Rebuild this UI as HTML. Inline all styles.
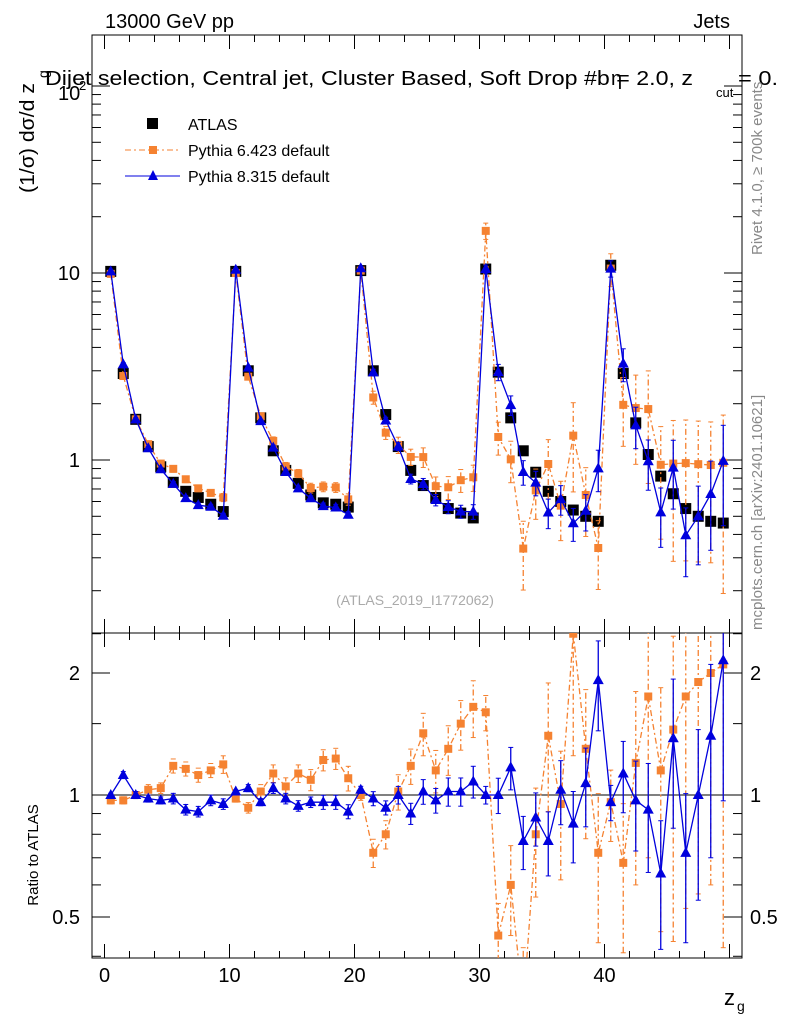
<!DOCTYPE html>
<html><head><meta charset="utf-8"><style>
html,body{margin:0;background:#fff;overflow:hidden;width:786px;height:1024px;}
svg{display:block;font-family:"Liberation Sans",sans-serif;}
</style></head><body>
<svg id="c" width="786" height="1024" xmlns="http://www.w3.org/2000/svg"></svg>
<script>
const bins=[0.5,1.5,2.5,3.5,4.5,5.5,6.5,7.5,8.5,9.5,10.5,11.5,12.5,13.5,14.5,15.5,16.5,17.5,18.5,19.5,20.5,21.5,22.5,23.5,24.5,25.5,26.5,27.5,28.5,29.5,30.5,31.5,32.5,33.5,34.5,35.5,36.5,37.5,38.5,39.5,40.5,41.5,42.5,43.5,44.5,45.5,46.5,47.5,48.5,49.5];
const atlas=[10.2,2.9,1.65,1.18,0.92,0.76,0.68,0.63,0.58,0.53,10.2,3.0,1.68,1.12,0.88,0.75,0.65,0.59,0.58,0.56,10.3,3.0,1.75,1.18,0.88,0.73,0.63,0.55,0.52,0.49,10.5,2.95,1.68,1.12,0.86,0.68,0.6,0.54,0.5,0.47,11.0,2.9,1.58,1.07,0.82,0.66,0.55,0.5,0.47,0.46];
const ratio6=[0.97,0.97,1.0,1.03,1.04,1.18,1.16,1.12,1.15,1.19,0.98,0.93,1.02,1.13,1.05,1.13,1.09,1.22,1.23,1.1,1.0,0.72,0.8,1.02,1.18,1.42,1.15,1.3,1.5,1.65,1.6,0.45,0.6,0.3,0.8,1.4,0.95,2.5,1.3,0.72,0.96,0.68,1.2,1.75,1.15,1.45,1.75,1.9,2.0,2.1];
const err6=[0.02,0.02,0.02,0.03,0.03,0.04,0.04,0.04,0.04,0.05,0.02,0.03,0.04,0.05,0.05,0.05,0.06,0.06,0.06,0.07,0.03,0.08,0.08,0.1,0.1,0.12,0.12,0.14,0.14,0.16,0.1,0.2,0.25,0.4,0.3,0.35,0.35,0.5,0.4,0.4,0.2,0.4,0.5,0.6,0.6,0.7,0.7,0.7,0.7,0.8];
const ratio8=[1.0,1.12,1.0,0.98,0.97,0.98,0.92,0.91,0.97,0.95,1.02,1.04,0.96,1.04,0.98,0.94,0.96,0.96,0.96,0.91,1.03,0.98,0.93,1.0,0.9,1.02,0.97,1.02,1.02,1.08,1.0,1.0,1.17,0.77,0.88,0.77,1.03,0.85,1.07,1.92,0.96,1.13,0.97,0.92,0.64,1.38,0.72,1.0,1.4,2.15];
const err8=[0.01,0.02,0.02,0.02,0.02,0.03,0.03,0.03,0.03,0.03,0.01,0.02,0.02,0.03,0.03,0.03,0.03,0.04,0.04,0.04,0.02,0.04,0.04,0.05,0.06,0.07,0.07,0.08,0.08,0.09,0.05,0.1,0.12,0.15,0.15,0.18,0.18,0.2,0.22,0.25,0.1,0.2,0.25,0.3,0.35,0.4,0.4,0.45,0.5,0.55];
const xTicks=[0,10,20,30,40,50];
const yTickLabels=[["10","1"],["2","1","0.5"]];

const S=document.getElementById('c');const NS='http://www.w3.org/2000/svg';
function el(t,a,p){const e=document.createElementNS(NS,t);for(const k in a)e.setAttribute(k,a[k]);(p||S).appendChild(e);return e;}
const L=92,R=742,T1=35,B1=633,T2=633,B2=958;
const X=v=>L+(v+1)/52*(R-L);
const Y1=v=>273-(Math.log10(v)-1)*187;
const Y2=v=>795-Math.log2(v)*122;
const C6='#f58231',C8='#0000dd';
function txt(x,y,s,a,name){const t=el('text',Object.assign({x:x,y:y,'font-size':18},a||{}));t.textContent=s;return t;}
[[T1,B1],[T2,B2]].forEach((p,i)=>{const r=el('rect',{x:L,y:p[0],width:R-L,height:p[1]-p[0],fill:'none',stroke:'#000','stroke-width':1});});
const defs=el('defs',{});
const c1=el('clipPath',{id:'cp1'},defs);el('rect',{x:L,y:T1,width:R-L,height:B1-T1},c1);
const c2=el('clipPath',{id:'cp2'},defs);el('rect',{x:L,y:T2,width:R-L,height:B2-T2},c2);
for(let v=0;v<=50;v+=2){const big=v%10==0;const x=X(v);
[[T1,B1],[T2,B2]].forEach(p=>{el('line',{x1:x,x2:x,y1:p[1],y2:p[1]-(big?14:7),stroke:'#000'});el('line',{x1:x,x2:x,y1:p[0],y2:p[0]+(big?14:7),stroke:'#000'});});}
xTicks.slice(0,5).forEach(v=>txt(X(v),982,String(v),{'text-anchor':'middle','font-size':20},'x-tick-label'));
txt(735,1005,'z',{'font-size':22,'text-anchor':'end'},'x-axis-title');txt(737,1011,'g',{'font-size':14},'x-axis-title-sub');
for(let d=-1;d<=2;d++)for(let m=1;m<=9;m++){const v=m*Math.pow(10,d);const y=Y1(v);if(y<T1||y>B1)continue;const w=m==1?18:9;
el('line',{x1:L,x2:L+w,y1:y,y2:y,stroke:'#000'});el('line',{x1:R,x2:R-w,y1:y,y2:y,stroke:'#000'});}
txt(80,280,yTickLabels[0][0],{'text-anchor':'end','font-size':20},'y-tick-10');
txt(80,467,yTickLabels[0][1],{'text-anchor':'end','font-size':20},'y-tick-1');
txt(58,100,'10',{'font-size':20},'y-tick-100');txt(79,90,'2',{'font-size':13},'y-tick-100-exp');
[0.4,0.5,0.6,0.7,0.8,0.9,1,1.5,2,2.5].forEach(v=>{const y=Y2(v);if(y<T2||y>B2)return;const big=[0.5,1,2].includes(v);const w=big?18:9;
el('line',{x1:L,x2:L+w,y1:y,y2:y,stroke:'#000'});el('line',{x1:R,x2:R-w,y1:y,y2:y,stroke:'#000'});});
[[2,'2'],[1,'1'],[0.5,'0.5']].forEach(p=>{txt(80,Y2(p[0])+7,p[1],{'text-anchor':'end','font-size':20},'ratio-tick-label');txt(750,Y2(p[0])+7,p[1],{'font-size':20},'ratio-tick-label-right');});
el('line',{x1:L,x2:R,y1:Y2(1),y2:Y2(1),stroke:'#000'});
txt(105,28,'13000 GeV pp',{'font-size':20},'beam-label');
txt(730,28,'Jets',{'font-size':20,'text-anchor':'end'},'process-label');
txt(45,85,'Dijet selection, Central jet, Cluster Based, Soft Drop #b = 2.0, z',{'font-size':20,textLength:648,lengthAdjust:'spacingAndGlyphs'},'plot-title');
txt(611,85,'η',{'font-size':20},'plot-title-eta');
txt(716,97,'cut',{'font-size':13},'plot-title-sub');txt(738,85,'= 0.',{'font-size':20,textLength:40,lengthAdjust:'spacingAndGlyphs'},'plot-title-end');
txt(0,0,'(1/σ) dσ/d z',{'font-size':20,textLength:110,lengthAdjust:'spacingAndGlyphs',transform:'translate(34,193) rotate(-90)'},'y-axis-title');
txt(0,0,'g',{'font-size':14,transform:'translate(48,78) rotate(-90)'},'y-axis-title-sub');
txt(0,0,'Ratio to ATLAS',{'font-size':15,transform:'translate(38,855) rotate(-90)','text-anchor':'middle'},'ratio-axis-title');
txt(0,0,'Rivet 4.1.0, ≥ 700k events',{'font-size':15,fill:'#888',transform:'translate(762,255) rotate(-90)'},'rivet-label');
txt(0,0,'mcplots.cern.ch [arXiv:2401.10621]',{'font-size':15,fill:'#888',transform:'translate(762,630) rotate(-90)'},'mcplots-label');
txt(415,605,'(ATLAS_2019_I1772062)',{'font-size':14,fill:'#aaa','text-anchor':'middle'},'analysis-id');
const lg=el('g',{});
el('rect',{x:147,y:118,width:11,height:11,fill:'#000'},lg);txt(188,130,'ATLAS',{'font-size':16},'legend-atlas');
el('line',{x1:125,x2:180,y1:150,y2:150,stroke:C6,'stroke-dasharray':'6,3,2,3'},lg);el('rect',{x:149,y:146,width:8,height:8,fill:C6},lg);txt(188,156,'Pythia 6.423 default',{'font-size':16},'legend-py6');
el('line',{x1:125,x2:180,y1:176,y2:176,stroke:C8},lg);el('path',{d:'M153,170 L158,180 L148,180 Z',fill:C8},lg);txt(188,182,'Pythia 8.315 default',{'font-size':16},'legend-py8');
function series(vals,errs,col,dash,marker,Y,clip,name){
 const g=el('g',{'clip-path':'url(#'+clip+')'});
 let d='';vals.forEach((v,i)=>{d+=(i?'L':'M')+X(bins[i]).toFixed(1)+','+Y(v).toFixed(1);});
 if(col!='#000')el('path',{d:d,fill:'none',stroke:col,'stroke-width':1.3,'stroke-dasharray':dash||'none'},g);
 vals.forEach((v,i)=>{const x=X(bins[i]),y=Y(v);
  if(errs){const lo=Y(Math.max(v*(1-errs[i]),0.01)),hi=Y(v*(1+errs[i]));el('line',{x1:x,x2:x,y1:lo,y2:hi,stroke:col,'stroke-width':1.3,'stroke-dasharray':dash||'none'},g);
   el('line',{x1:x-2.5,x2:x+2.5,y1:lo,y2:lo,stroke:col},g);el('line',{x1:x-2.5,x2:x+2.5,y1:hi,y2:hi,stroke:col},g);}
  let m;if(marker=='big')m=el('rect',{x:x-5.5,y:y-5.5,width:11,height:11,fill:col},g);
  else if(marker=='sq')m=el('rect',{x:x-4,y:y-4,width:8,height:8,fill:col},g);
  else m=el('path',{d:`M${x},${y-6} L${x+5.5},${y+4} L${x-5.5},${y+4} Z`,fill:col},g);
  });
}
const py6=atlas.map((a,i)=>a*ratio6[i]),py8=atlas.map((a,i)=>a*ratio8[i]);
series(atlas,null,'#000',null,'big',Y1,'cp1','atlas-data');
series(py6,err6,C6,'6,3,2,3','sq',Y1,'cp1','pythia6-main');
series(py8,err8,C8,null,'tri',Y1,'cp1','pythia8-main');
series(ratio6,err6,C6,'6,3,2,3','sq',Y2,'cp2','pythia6-ratio');
series(ratio8,err8,C8,null,'tri',Y2,'cp2','pythia8-ratio');
</script>
</body></html>
